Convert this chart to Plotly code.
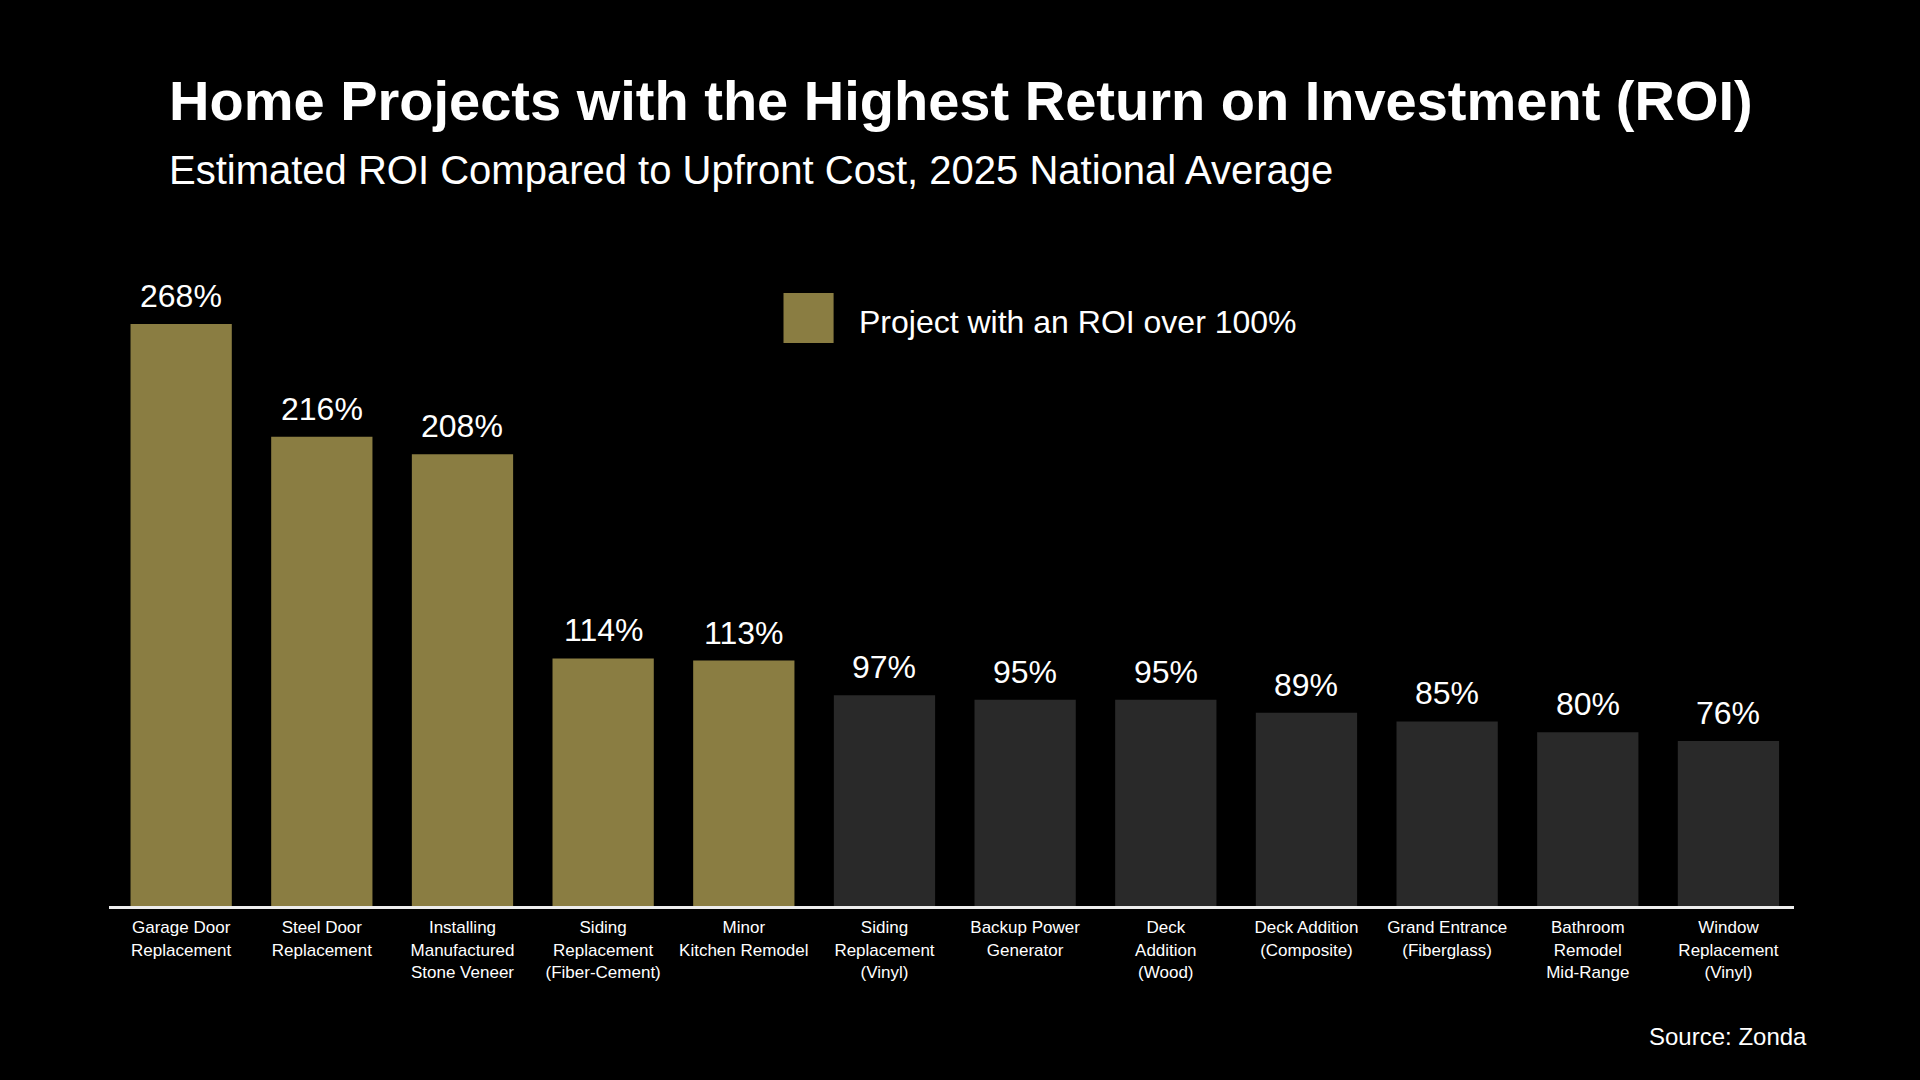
import plotly.graph_objects as go

# ---- data ----
projects = [
    "Garage Door Replacement",
    "Steel Door Replacement",
    "Installing Manufactured Stone Veneer",
    "Siding Replacement (Fiber-Cement)",
    "Minor Kitchen Remodel",
    "Siding Replacement (Vinyl)",
    "Backup Power Generator",
    "Deck Addition (Wood)",
    "Deck Addition (Composite)",
    "Grand Entrance (Fiberglass)",
    "Bathroom Remodel Mid-Range",
    "Window Replacement (Vinyl)",
]
tick_labels = [
    "Garage Door<br>Replacement",
    "Steel Door<br>Replacement",
    "Installing<br>Manufactured<br>Stone Veneer",
    "Siding<br>Replacement<br>(Fiber-Cement)",
    "Minor<br>Kitchen Remodel",
    "Siding<br>Replacement<br>(Vinyl)",
    "Backup Power<br>Generator",
    "Deck<br>Addition<br>(Wood)",
    "Deck Addition<br>(Composite)",
    "Grand Entrance<br>(Fiberglass)",
    "Bathroom<br>Remodel<br>Mid-Range",
    "Window<br>Replacement<br>(Vinyl)",
]
roi = [268, 216, 208, 114, 113, 97, 95, 95, 89, 85, 80, 76]

GOLD = "#8A7D42"
GREY = "#292929"
FONT = "Liberation Sans, Arial, sans-serif"

W, H = 1920, 1080
L, R, T, B = 109, 1794, 300, 906
PW, PH = R - L, B - T


def px(x):
    return (x - L) / PW


def py(y):
    return (B - y) / PH


colors = [GOLD if v > 100 else GREY for v in roi]

fig = go.Figure()
fig.add_trace(go.Bar(
    x=projects,
    y=roi,
    marker=dict(color=colors, line=dict(width=0)),
    width=0.72,
    showlegend=False,
    hoverinfo="skip",
))

# value labels
for p, v in zip(projects, roi):
    fig.add_annotation(
        x=p, y=v, xref="x", yref="y",
        text=f"{v}%", showarrow=False,
        yanchor="middle", yshift=28,
        font=dict(family=FONT, size=32, color="white"),
    )

# titles
fig.add_annotation(
    xref="paper", yref="paper", x=px(167), y=py(100),
    xanchor="left", yanchor="middle", showarrow=False,
    text="<b>Home Projects with the Highest Return on Investment (ROI)</b>",
    font=dict(family=FONT, size=56, color="white"),
)
fig.add_annotation(
    xref="paper", yref="paper", x=px(167), y=py(170),
    xanchor="left", yanchor="middle", showarrow=False,
    text="Estimated ROI Compared to Upfront Cost, 2025 National Average",
    font=dict(family=FONT, size=40, color="white"),
)

# legend
fig.add_shape(
    type="rect", xref="paper", yref="paper",
    x0=px(783.5), x1=px(833.6), y0=py(343), y1=py(293),
    fillcolor=GOLD, line=dict(width=0),
)
fig.add_annotation(
    xref="paper", yref="paper", x=px(857), y=py(322),
    xanchor="left", yanchor="middle", showarrow=False,
    text="Project with an ROI over 100%",
    font=dict(family=FONT, size=32, color="white"),
)

# source
fig.add_annotation(
    xref="paper", yref="paper", x=px(1809), y=py(1036),
    xanchor="right", yanchor="middle", showarrow=False,
    text="Source: Zonda",
    font=dict(family=FONT, size=24, color="white"),
)

fig.update_layout(
    width=W, height=H,
    margin=dict(l=L, r=W - R, t=T, b=H - B, pad=0),
    paper_bgcolor="black", plot_bgcolor="black",
    font=dict(family=FONT, color="white"),
    xaxis=dict(
        type="category",
        range=[-0.513, 11.466],
        tickmode="array", tickvals=projects, ticktext=tick_labels,
        tickangle=0,
        tickfont=dict(family=FONT, size=17, color="white"),
        ticklabelstandoff=4,
        showline=True, linecolor="#EDEDED", linewidth=3,
        ticks="", showgrid=False, zeroline=False,
    ),
    yaxis=dict(
        range=[0, 279],
        visible=False, showgrid=False, zeroline=False,
    ),
)

fig.write_html(
    "out.html",
    config={"displayModeBar": False},
    post_script="document.body.style.margin='0';document.body.style.background='black';",
)
